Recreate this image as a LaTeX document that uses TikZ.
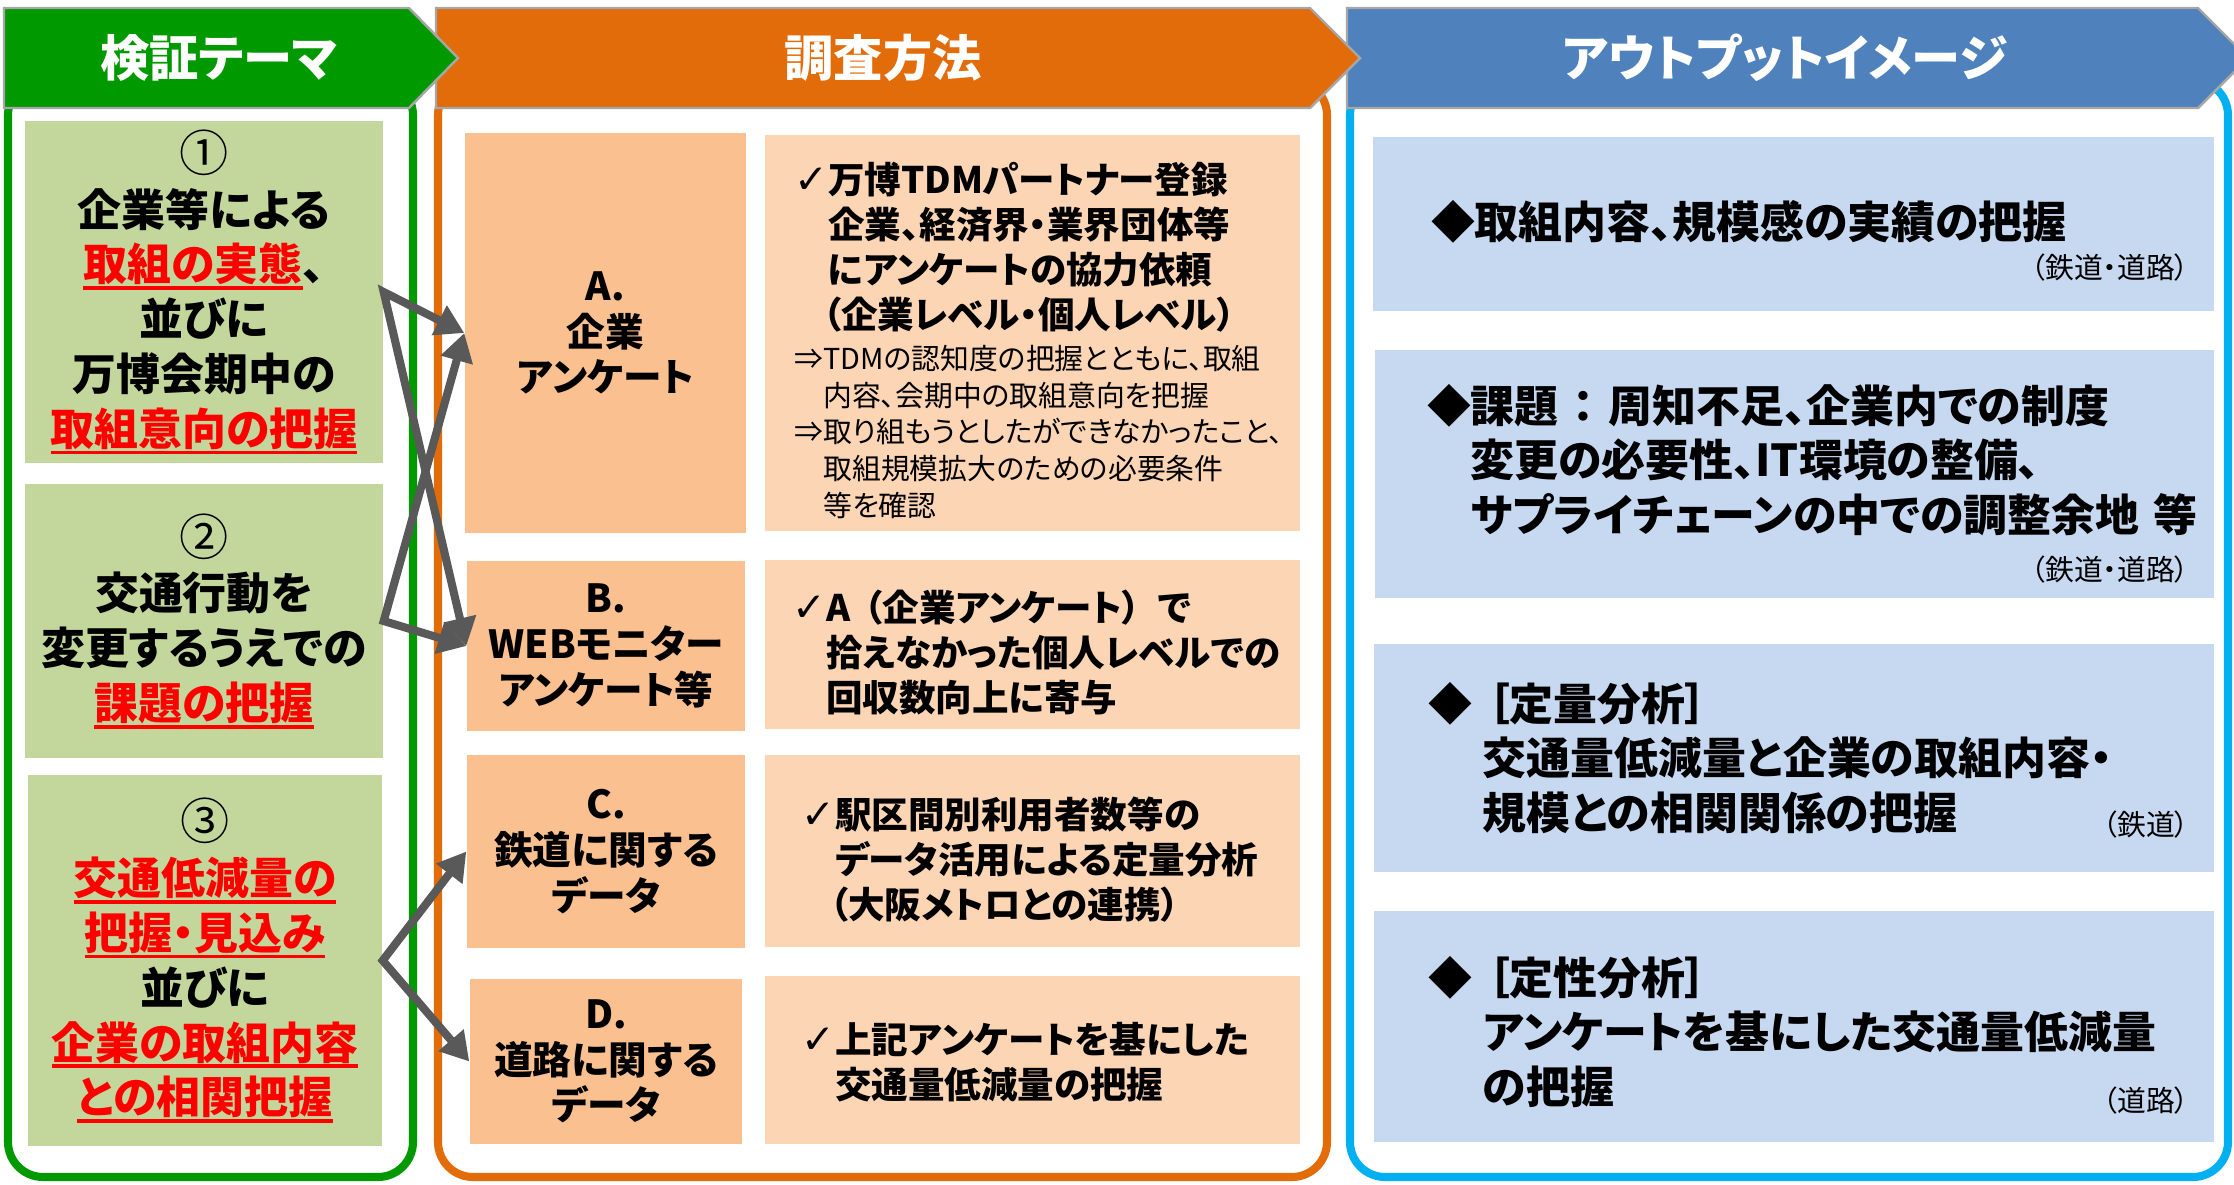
\documentclass[tikz,border=0pt]{standalone}
\usepackage{fontspec}
\setmainfont{Noto Sans CJK JP}[RawFeature=+palt]
\newfontfamily\symfont{DejaVu Sans}
\usepackage{xcolor}
\usetikzlibrary{arrows.meta}
\definecolor{themegreen}{HTML}{009900}
\definecolor{themefill}{HTML}{C3D69B}
\definecolor{methodorange}{HTML}{E36C0A}
\definecolor{methodfill}{HTML}{FAC090}
\definecolor{detailfill}{HTML}{FCD5B5}
\definecolor{outblue}{HTML}{4F81BD}
\definecolor{outcyan}{HTML}{00B0F0}
\definecolor{outfill}{HTML}{C6D9F1}
\definecolor{linkgray}{HTML}{595959}
\definecolor{edgegray}{HTML}{A6A6A6}
\newcommand{\redline}[1]{\textcolor{red}{\setbox0\hbox{#1}\rlap{\rule[-2.6pt]{\wd0}{1.1pt}}\box0}}
\newcommand{\chk}{\makebox[9.5pt][l]{\symfont\mdseries\fontsize{11.5}{11.5}\selectfont ✓}}
\newcommand{\dia}{\makebox[12.2pt][l]{◆}}
\newcommand{\circnum}[1]{{\mdseries\fontsize{14}{15.6}\selectfont #1}}

\begin{document}
\begin{tikzpicture}[x=0.1mm, y=-0.1mm,
    frame/.style={line width=2.3pt, rounded corners=10pt},
    headbar/.style={draw=edgegray, line width=0.7pt},
    headtxt/.style={text=white, font=\bfseries\fontsize{14}{16}\selectfont},
    themebox/.style={fill=themefill, inner sep=0pt, align=center, font=\bfseries\fontsize{12.5}{15.6}\selectfont},
    methodbox/.style={fill=methodfill, inner sep=0pt, align=center, font=\bfseries\fontsize{11}{13}\selectfont},
    detailbox/.style={fill=detailfill, inner sep=0pt},
    outbox/.style={fill=outfill, inner sep=0pt},
    boldtxt/.style={anchor=west, inner sep=0pt, align=left, font=\bfseries\fontsize{10.4}{12.8}\selectfont},
    plaintxt/.style={anchor=west, inner sep=0pt, align=left, font=\fontsize{8.2}{10.5}\selectfont},
    outtxt/.style={anchor=west, inner sep=0pt, align=left, font=\bfseries\fontsize{12.5}{15.6}\selectfont},
    notetxt/.style={anchor=east, inner sep=0pt, font=\fontsize{8.2}{9}\selectfont},
    link/.style={draw=linkgray, line width=2.3pt, {Triangle[length=8pt,width=9pt]}-{Triangle[length=8pt,width=9pt]}}]
      \useasboundingbox (0,0) rectangle (2234,1184);
      \draw[frame, themegreen] (8,80) rectangle (413,1177);
      \draw[frame, methodorange] (438,80) rectangle (1327,1177);
      \draw[frame, outcyan] (1350,80) rectangle (2228,1177);
      \filldraw[headbar, fill=outblue] (1347,8) -- (2198,8) -- (2248,58) -- (2198,108) -- (1347,108) -- cycle;
      \filldraw[headbar, fill=methodorange] (436,8) -- (1310,8) -- (1360,58) -- (1310,108) -- (436,108) -- cycle;
      \filldraw[headbar, fill=themegreen] (4,8) -- (409,8) -- (458,58) -- (409,108) -- (4,108) -- cycle;
      \node[headtxt] (hTheme) at (219,58) {検証テーマ};
      \node[headtxt] (hMethod) at (883,58) {調査方法};
      \node[headtxt] (hOutput) at (1785,58) {アウトプットイメージ};

      \node[themebox, minimum width=35.8mm, minimum height=34.2mm] (t1) at (204,292)
        {\circnum{①}\\企業等による\\\redline{取組の実態}、\\並びに\\万博会期中の\\\redline{取組意向の把握}};
      \node[themebox, minimum width=35.8mm, minimum height=27.4mm] (t2) at (204,621)
        {\circnum{②}\\交通行動を\\変更するうえでの\\\redline{課題の把握}};
      \node[themebox, minimum width=35.4mm, minimum height=37.1mm] (t3) at (205,960.5)
        {\circnum{③}\\\redline{交通低減量の}\\\redline{把握・見込み}\\並びに\\\redline{企業の取組内容}\\\redline{との相関把握}};

      \node[methodbox, minimum width=28.1mm, minimum height=40mm] (mA) at (605.5,333) {A.\\企業\\アンケート};
      \node[methodbox, minimum width=27.8mm, minimum height=17mm] (mB) at (606,646) {B.\\WEBモニター\\アンケート等};
      \node[methodbox, minimum width=27.8mm, minimum height=19.3mm] (mC) at (606,851.5) {C.\\鉄道に関する\\データ};
      \node[methodbox, minimum width=27.2mm, minimum height=16.5mm] (mD) at (606,1061.5) {D.\\道路に関する\\データ};

      \node[detailbox, minimum width=53.5mm, minimum height=39.6mm] (dA) at (1032.5,333) {};
      \node[detailbox, minimum width=53.5mm, minimum height=16.9mm] (dB) at (1032.5,644.5) {};
      \node[detailbox, minimum width=53.5mm, minimum height=19.2mm] (dC) at (1032.5,851) {};
      \node[detailbox, minimum width=53.5mm, minimum height=16.8mm] (dD) at (1032,1060) {};
      \node[boldtxt] (dAtop) at (794,247)
        {\chk 万博TDMパートナー登録\\\hspace*{9.5pt}企業、経済界・業界団体等\\\hspace*{9.5pt}にアンケートの協力依頼\\\hspace*{8pt}（企業レベル・個人レベル）};
      \node[plaintxt] (dAsub) at (794,432)
        {⇒TDMの認知度の把握とともに、取組\\\hspace*{8.2pt}内容、会期中の取組意向を把握\\⇒取り組もうとしたができなかったこと、\\\hspace*{8.2pt}取組規模拡大のための必要条件\\\hspace*{8.2pt}等を確認};
      \node[boldtxt] (dBtxt) at (792,653)
        {\chk A\hspace{4pt}（企業アンケート）\hspace{5pt}で\\\hspace*{9.5pt}拾えなかった個人レベルでの\\\hspace*{9.5pt}回収数向上に寄与};
      \node[boldtxt] (dCtxt) at (801,860)
        {\chk 駅区間別利用者数等の\\\hspace*{9.5pt}データ活用による定量分析\\\hspace*{8pt}（大阪メトロとの連携）};
      \node[boldtxt] (dDtxt) at (801,1062)
        {\chk 上記アンケートを基にした\\\hspace*{9.5pt}交通量低減量の把握};

      \node[outbox, minimum width=84.1mm, minimum height=17.4mm] (r1) at (1793.5,224) {};
      \node[outbox, minimum width=83.9mm, minimum height=24.8mm] (r2) at (1794.5,474) {};
      \node[outbox, minimum width=84mm, minimum height=22.8mm] (r3) at (1794,758) {};
      \node[outbox, minimum width=84mm, minimum height=23.1mm] (r4) at (1794,1026.5) {};
      \node[outtxt] (r1txt) at (1431,222) {\dia 取組内容、規模感の実績の把握};
      \node[outtxt] (r2txt) at (1427,460)
        {\dia 課題\hspace{4pt}：\hspace{4pt}周知不足、企業内での制度\\\hspace*{12.2pt}変更の必要性、IT環境の整備、\\\hspace*{12.2pt}サプライチェーンの中での調整余地\hspace{4pt}等};
      \node[outtxt] (r3txt) at (1428,758)
        {\dia\hspace*{4.5pt}［定量分析］\\\hspace*{15.4pt}交通量低減量と企業の取組内容・\\\hspace*{15.4pt}規模との相関関係の把握};
      \node[outtxt] (r4txt) at (1428,1032)
        {\dia\hspace*{4.5pt}［定性分析］\\\hspace*{15.4pt}アンケートを基にした交通量低減量\\\hspace*{15.4pt}の把握};
      \node[notetxt] (r1note) at (2190,268) {（鉄道・道路）};
      \node[notetxt] (r2note) at (2190,570) {（鉄道・道路）};
      \node[notetxt] (r3note) at (2190,825) {（鉄道）};
      \node[notetxt] (r4note) at (2190,1101) {（道路）};

      \draw[link] (mA.west) -- (t1.east) -- (mB.west);
      \draw[link] (mA.west) -- (t2.east) -- (mB.west);
      \draw[link] (mC.west) -- (t3.east) -- (mD.west);
    \end{tikzpicture}
\end{document}
